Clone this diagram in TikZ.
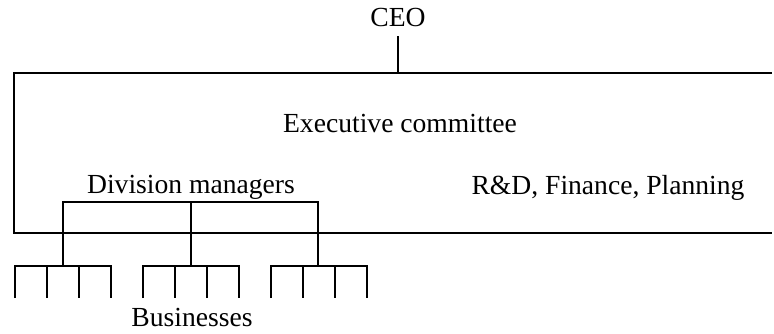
\documentclass[tikz,border=0pt]{standalone}
\usepackage{fontspec}
\setmainfont{Liberation Serif}
\begin{document}
\begin{tikzpicture}[x=1pt,y=-1pt,
  line/.style={line width=1.3pt,black},
  lbl/.style={inner sep=0pt,anchor=base,font=\fontsize{27.6}{30}\selectfont}]
\useasboundingbox (0,0) rectangle (774,333);
% labels
\node[lbl] (ceo) at (398,26) {CEO};
\node[lbl] (exec) at (400,132) {Executive committee};
\node[lbl] (div) at (191,193) {Division managers};
\node[lbl] (staff) at (608,194) {R\&D, Finance, Planning};
\node[lbl] (bus) at (192,326) {Businesses};
% executive committee frame, open on the right
\coordinate (tl) at (14,73);
\coordinate (tr) at (772,73);
\coordinate (bl) at (14,233);
\coordinate (br) at (772,233);
\draw[line] (tr) -- (tl) -- (bl) -- (br);
% CEO tie to the committee
\coordinate (ceoTie) at (398,73);
\draw[line] (398,36) -- (ceoTie);
% division managers bracket
\coordinate (d1) at (63,202);
\coordinate (d2) at (191,202);
\coordinate (d3) at (318,202);
\draw[line] (d1 |- 266,266) -- (d1) -- (d3) -- (d3 |- 266,266);
\draw[line] (d2) -- (d2 |- 266,266);
% business groups
\foreach \x in {15,143,271}{
  \draw[line] (\x,298) -- (\x,266) -- (\x+96,266) -- (\x+96,298);
  \draw[line] (\x+32,266) -- (\x+32,298);
  \draw[line] (\x+64,266) -- (\x+64,298);
}
\end{tikzpicture}
\end{document}
